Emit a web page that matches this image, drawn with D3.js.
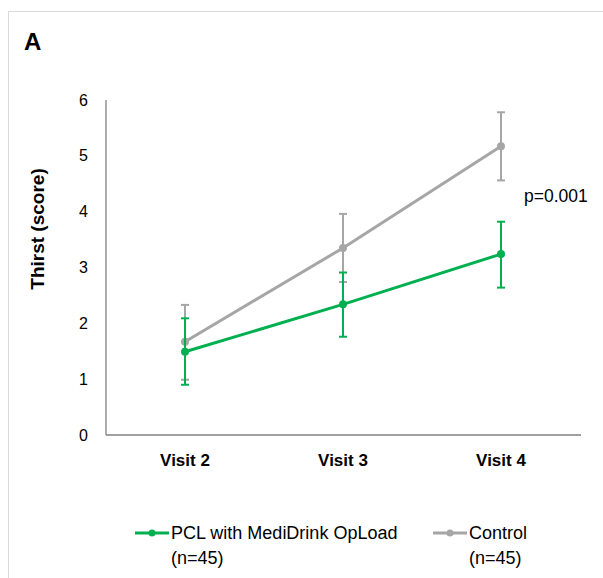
<!DOCTYPE html>
<html>
<head>
<meta charset="utf-8">
<script src="https://cdn.jsdelivr.net/npm/d3@7"></script>
<style>
  body { margin: 0; background: #fff; }
  text { font-family: "Liberation Sans", Arial, sans-serif; fill: #000; }
</style>
</head>
<body>
<div id="chart"></div>
<script>
// data
const visits = ["Visit 2", "Visit 3", "Visit 4"];
const yTicks = [0, 1, 2, 3, 4, 5, 6];
const pclMean = [1.49, 2.34, 3.24];
const pclLow  = [0.90, 1.76, 2.64];
const pclHigh = [2.09, 2.91, 3.82];
const ctlMean = [1.67, 3.35, 5.17];
const ctlLow  = [0.99, 2.74, 4.56];
const ctlHigh = [2.33, 3.96, 5.78];

const green = "#00b050", grey = "#a6a6a6";

const W = 603, H = 578;
const svg = d3.select("#chart").append("svg")
    .attr("width", W).attr("height", H);

// outer frame
svg.append("rect")
    .attr("x", 8.5).attr("y", 11.5)
    .attr("width", 620).attr("height", 600)
    .attr("fill", "#fff").attr("stroke", "#d9d9d9");

svg.append("text").attr("x", 24).attr("y", 50)
    .style("font-size", "24px").style("font-weight", "bold").text("A");

const x = d3.scaleBand().domain(visits).range([106, 580]);
const y = d3.scaleLinear().domain([0, 6]).range([435, 100]);

// axes
svg.append("line").attr("x1", 106).attr("x2", 106).attr("y1", 100).attr("y2", 435)
    .attr("stroke", "#808080").attr("stroke-width", 1.3);
svg.append("line").attr("x1", 106).attr("x2", 581).attr("y1", 435).attr("y2", 435)
    .attr("stroke", "#808080").attr("stroke-width", 1.3);

svg.selectAll(".ytick").data(yTicks).enter().append("text")
    .attr("x", 88).attr("y", d => y(d)).attr("dy", "0.35em")
    .attr("text-anchor", "end").style("font-size", "16px").text(d => d);

svg.selectAll(".xtick").data(visits).enter().append("text")
    .attr("x", d => x(d) + x.bandwidth() / 2).attr("y", 466)
    .attr("text-anchor", "middle").style("font-size", "17px").style("font-weight", "bold")
    .text(d => d);

svg.append("text")
    .attr("transform", "translate(44,229) rotate(-90)")
    .attr("text-anchor", "middle").style("font-size", "19px").style("font-weight", "bold")
    .text("Thirst (score)");

const cx = d => x(d) + x.bandwidth() / 2;

function series(mean, low, high, color) {
  const pts = visits.map((v, i) => ({ v, m: mean[i], lo: low[i], hi: high[i] }));
  const g = svg.append("g");
  g.selectAll(".err").data(pts).enter().append("line")
      .attr("x1", d => cx(d.v)).attr("x2", d => cx(d.v))
      .attr("y1", d => y(d.lo)).attr("y2", d => y(d.hi))
      .attr("stroke", color).attr("stroke-width", 2);
  ["lo", "hi"].forEach(k => {
    g.selectAll(".cap" + k).data(pts).enter().append("line")
        .attr("x1", d => cx(d.v) - 4).attr("x2", d => cx(d.v) + 4)
        .attr("y1", d => y(d[k])).attr("y2", d => y(d[k]))
        .attr("stroke", color).attr("stroke-width", 2);
  });
  g.append("path").datum(pts)
      .attr("d", d3.line().x(d => cx(d.v)).y(d => y(d.m)))
      .attr("fill", "none").attr("stroke", color).attr("stroke-width", 3);
  g.selectAll("circle").data(pts).enter().append("circle")
      .attr("cx", d => cx(d.v)).attr("cy", d => y(d.m)).attr("r", 4)
      .attr("fill", color);
}

series(ctlMean, ctlLow, ctlHigh, grey);
series(pclMean, pclLow, pclHigh, green);

svg.append("text").attr("x", 524).attr("y", 202)
    .style("font-size", "17.5px").text("p=0.001");

// legend
const legend = [
  { name: "PCL with MediDrink OpLoad", n: "(n=45)", color: green, x0: 135 },
  { name: "Control", n: "(n=45)", color: grey, x0: 433 }
];
const lg = svg.selectAll(".leg").data(legend).enter().append("g");
lg.append("line").attr("x1", d => d.x0).attr("x2", d => d.x0 + 34)
    .attr("y1", 533).attr("y2", 533).attr("stroke", d => d.color).attr("stroke-width", 3);
lg.append("circle").attr("cx", d => d.x0 + 17).attr("cy", 533).attr("r", 3.5)
    .attr("fill", d => d.color);
lg.append("text").attr("x", d => d.x0 + 36).attr("y", 539)
    .style("font-size", "18px").text(d => d.name);
lg.append("text").attr("x", d => d.x0 + 36).attr("y", 564)
    .style("font-size", "18px").text(d => d.n);
</script>
</body>
</html>
